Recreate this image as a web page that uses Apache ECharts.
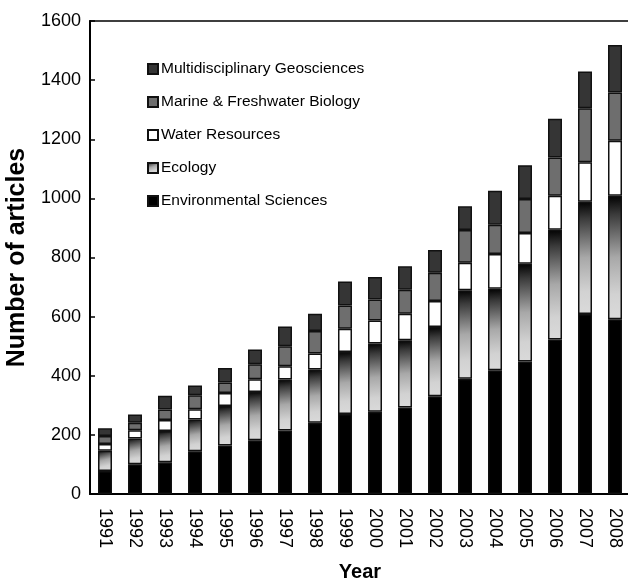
<!DOCTYPE html>
<html>
<head>
<meta charset="utf-8">
<script src="https://cdn.jsdelivr.net/npm/echarts@6/dist/echarts.min.js"></script>
<style>
  html, body { margin: 0; padding: 0; background: #fff; }
  #chart { width: 628px; height: 581px; }
</style>
</head>
<body>
<div id="chart"></div>
<script>
// years on the x axis
const years = ["1991", "1992", "1993", "1994", "1995", "1996", "1997", "1998", "1999",
  "2000", "2001", "2002", "2003", "2004", "2005", "2006", "2007", "2008"];

// article counts per subject category (stacked bottom to top)
const environmentalSciences = [78, 101, 107, 145, 164, 182, 215, 241, 271, 278, 293, 331, 390, 419, 448, 523, 609, 591];
const ecology = [68, 87, 106, 107, 134, 163, 172, 180, 209, 231, 227, 234, 299, 275, 331, 371, 380, 418];
const waterResources = [23, 28, 37, 35, 44, 43, 45, 54, 79, 78, 90, 88, 93, 118, 104, 115, 133, 186];
const marineBiology = [27, 25, 36, 47, 35, 51, 68, 76, 79, 71, 81, 95, 111, 99, 115, 129, 183, 163];
const multiGeosciences = [26, 28, 46, 33, 49, 50, 67, 59, 81, 76, 79, 77, 80, 115, 114, 131, 124, 161];

const yTicks = [0, 200, 400, 600, 800, 1000, 1200, 1400, 1600];

const font = "Liberation Sans, Arial, sans-serif";

const chart = echarts.init(document.getElementById("chart"));

const ecologyFill = new echarts.graphic.LinearGradient(0, 0, 0.35, 1, [
  { offset: 0, color: "#000000" },
  { offset: 0.15, color: "#3a3a3a" },
  { offset: 0.5, color: "#a8a8a8" },
  { offset: 0.8, color: "#d2d2d2" },
  { offset: 1, color: "#dadada" },
]);

function makeSeries(name, data, color) {
  return {
    name: name,
    type: "bar",
    stack: "total",
    barWidth: 14,
    data: data,
    itemStyle: {
      color: color,
      borderColor: "#111",
      borderWidth: 1.5,
    },
    emphasis: { disabled: true },
    animation: false,
  };
}

chart.setOption({
  animation: false,
  textStyle: { fontFamily: font },
  grid: {
    left: 90,
    top: 21,
    width: 540,
    height: 473,
    outerBoundsMode: "none",
    containLabel: false,
    show: true,
    borderColor: "#000",
    borderWidth: 1.5,
  },
  legend: {
    orient: "vertical",
    left: 147,
    top: 61,
    padding: 0,
    itemWidth: 10,
    itemHeight: 10,
    itemGap: 17,
    icon: "rect",
    selectedMode: false,
    data: ["Multidisciplinary Geosciences", "Marine & Freshwater Biology", "Water Resources", "Ecology", "Environmental Sciences"],
    textStyle: { fontSize: 15.5, color: "#000", fontFamily: font, padding: [0, 0, 0, -2] },
  },
  xAxis: {
    type: "category",
    data: years,
    name: "Year",
    nameLocation: "middle",
    nameGap: 68,
    nameTextStyle: { fontSize: 20, fontWeight: "bold", color: "#000", fontFamily: font },
    axisLine: { lineStyle: { color: "#000", width: 2 } },
    axisTick: { inside: true, length: 4, lineStyle: { color: "#000", width: 1.5 } },
    axisLabel: { rotate: -90, fontSize: 18, color: "#000", margin: 14, fontFamily: font },
  },
  yAxis: {
    type: "value",
    min: yTicks[0],
    max: yTicks[yTicks.length - 1],
    interval: 200,
    name: "Number of articles",
    nameLocation: "middle",
    nameGap: 53,
    nameTextStyle: { fontSize: 25, fontWeight: "bold", color: "#000", fontFamily: font },
    axisLine: { show: true, lineStyle: { color: "#000", width: 2 } },
    axisTick: { show: true, inside: true, length: 5, lineStyle: { color: "#000", width: 1.5 } },
    axisLabel: {
      fontSize: 18,
      color: "#000",
      margin: 9,
      fontFamily: font,
      formatter: (val) => String(val),
    },
    splitLine: { show: false },
  },
  series: [
    makeSeries("Environmental Sciences", environmentalSciences, "#000000"),
    makeSeries("Ecology", ecology, ecologyFill),
    makeSeries("Water Resources", waterResources, "#ffffff"),
    makeSeries("Marine & Freshwater Biology", marineBiology, "#6e6e6e"),
    makeSeries("Multidisciplinary Geosciences", multiGeosciences, "#353535"),
  ],
});
</script>
</body>
</html>
